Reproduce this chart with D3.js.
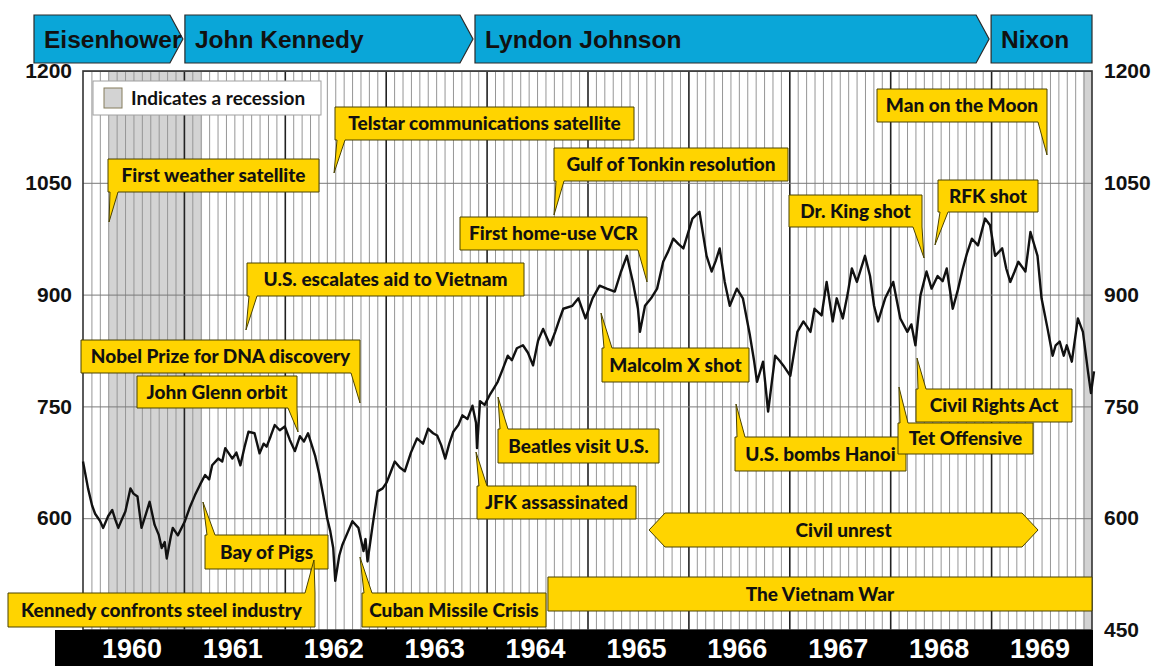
<!DOCTYPE html>
<html>
<head>
<meta charset="utf-8">
<script src="https://cdn.jsdelivr.net/npm/d3@7"></script>
<style>
  body { margin: 0; background: #fff; }
</style>
</head>
<body>
<script>
// ---- data ----
const years = [1960, 1961, 1962, 1963, 1964, 1965, 1966, 1967, 1968, 1969]
const valueTicks = [450, 600, 750, 900, 1050, 1200]

const presidents = ['Eisenhower', 'John Kennedy', 'Lyndon Johnson', 'Nixon']
const termStart = [1953.05, 1961.01, 1963.885, 1969.0]

const recessionStart = [1960.25, 1969.91]
const recessionEnd = [1961.18, 1970.9]

const eventLabels = [
    'First weather satellite', 'Telstar communications satellite', 'Gulf of Tonkin resolution',
    'First home-use VCR', 'U.S. escalates aid to Vietnam', 'Nobel Prize for DNA discovery',
    'John Glenn orbit', 'Bay of Pigs', 'Kennedy confronts steel industry', 'Cuban Missile Crisis',
    'Beatles visit U.S.', 'JFK assassinated', 'Malcolm X shot', 'U.S. bombs Hanoi',
    'Tet Offensive', 'Civil Rights Act', 'Dr. King shot', 'RFK shot', 'Man on the Moon'
]
const eventDates = [
    1960.258, 1962.488, 1964.668,
    1965.590, 1961.615, 1962.745,
    1962.131, 1961.189, 1962.289, 1962.745,
    1964.113, 1963.895, 1965.134, 1966.472,
    1968.087, 1968.266, 1968.335, 1968.444, 1969.554
]

const spanLabels = ['Civil unrest', 'The Vietnam War']
const spanStart = [1965.61, 1964.608]
const spanEnd = [1969.465, 1975.3]

// Dow Jones Industrial Average, decimal year / index level
const dowTime = [
    1960.00, 1960.05, 1960.09, 1960.12, 1960.14, 1960.17, 1960.20, 1960.25, 1960.29, 1960.32,
    1960.35, 1960.39, 1960.42, 1960.47, 1960.50, 1960.54, 1960.58, 1960.62, 1960.66, 1960.71,
    1960.75, 1960.78, 1960.81, 1960.83, 1960.87, 1960.89, 1960.94, 1961.01, 1961.06, 1961.11,
    1961.16, 1961.21, 1961.25, 1961.28, 1961.34, 1961.38, 1961.41, 1961.48, 1961.52, 1961.56,
    1961.60, 1961.64, 1961.70, 1961.75, 1961.79, 1961.82, 1961.86, 1961.90, 1961.95, 1962.00,
    1962.05, 1962.10, 1962.15, 1962.19, 1962.23, 1962.30, 1962.34, 1962.38, 1962.42, 1962.45,
    1962.48, 1962.50, 1962.54, 1962.57, 1962.62, 1962.67, 1962.73, 1962.78, 1962.80, 1962.82,
    1962.87, 1962.92, 1962.97, 1963.01, 1963.05, 1963.09, 1963.14, 1963.19, 1963.25, 1963.31,
    1963.37, 1963.42, 1963.47, 1963.51, 1963.55, 1963.59, 1963.63, 1963.67, 1963.72, 1963.76,
    1963.81, 1963.86, 1963.895, 1963.905, 1963.935, 1963.98, 1964.03, 1964.07, 1964.11, 1964.16,
    1964.21, 1964.25, 1964.30, 1964.36, 1964.41, 1964.46, 1964.51, 1964.56, 1964.63, 1964.68,
    1964.72, 1964.76, 1964.85, 1964.91, 1964.98, 1965.05, 1965.12, 1965.19, 1965.27, 1965.33,
    1965.39, 1965.45, 1965.50, 1965.52, 1965.57, 1965.63, 1965.69, 1965.75, 1965.80, 1965.85,
    1965.90, 1965.95, 1966.04, 1966.11, 1966.18, 1966.23, 1966.27, 1966.31, 1966.36, 1966.41,
    1966.48, 1966.54, 1966.61, 1966.65, 1966.68, 1966.74, 1966.79, 1966.86, 1966.90, 1966.94,
    1967.01, 1967.08, 1967.14, 1967.21, 1967.25, 1967.32, 1967.37, 1967.43, 1967.47, 1967.53,
    1967.58, 1967.62, 1967.67, 1967.75, 1967.80, 1967.84, 1967.88, 1967.95, 1968.03, 1968.10,
    1968.17, 1968.21, 1968.25, 1968.30, 1968.36, 1968.41, 1968.47, 1968.52, 1968.56, 1968.62,
    1968.67, 1968.72, 1968.76, 1968.81, 1968.87, 1968.94, 1968.99, 1969.04, 1969.11, 1969.15,
    1969.19, 1969.23, 1969.27, 1969.34, 1969.39, 1969.46, 1969.50, 1969.56, 1969.61, 1969.64,
    1969.68, 1969.72, 1969.75, 1969.80, 1969.86, 1969.91, 1969.96, 1969.99, 1970.02
]
const dowClose = [
    676, 640, 617, 606, 602, 596, 587, 603, 611, 598,
    587, 600, 609, 640, 633, 629, 587, 604, 622, 591,
    578, 560, 568, 546, 575, 587, 577, 596, 615, 631,
    645, 658, 652, 671, 680, 676, 694, 680, 688, 671,
    695, 716, 714, 687, 700, 696, 710, 725, 718, 723,
    705, 690, 710, 703, 714, 684, 660, 631, 600, 583,
    560, 516, 550, 564, 580, 596, 587, 556, 572, 542,
    590, 636, 640, 648, 662, 676, 668, 663, 688, 707,
    700, 720, 714, 711, 698, 680, 700, 716, 725, 738,
    733, 751, 728, 694, 757, 752, 765, 774, 783, 800,
    818, 812, 828, 832, 822, 805, 838, 854, 832, 850,
    866, 881, 885, 895, 868, 895, 912, 908, 904, 930,
    952, 917, 881, 850, 885, 895, 908, 944, 958, 975,
    968, 962, 1002, 1011, 952, 931, 945, 962, 917, 885,
    908, 895, 845, 812, 783, 810, 743, 818, 812, 805,
    791, 850, 864, 850, 881, 872, 917, 864, 895, 868,
    902, 935, 917, 952, 925, 885, 864, 895, 917, 868,
    850, 860, 832, 899, 931, 908, 925, 918, 935, 881,
    906, 935, 955, 975, 966, 1002, 993, 952, 962, 935,
    917, 930, 944, 931, 984, 952, 895, 854, 818, 832,
    837, 818, 832, 810, 868, 850, 797, 768, 797
]

// ---- layout (pixels) ----
const W = 1160
const H = 666
const plot = {left: 83, right: 1092, top: 71, bottom: 630}
const banner = {left: 34, top: 15, bottom: 63, arrow: 13}

// callout boxes keyed by label; tail = which corner the pointer leaves from
const calloutLayout = {
    'First weather satellite': {x: 108, y: 159, w: 211, h: 33, tail: 'bl', tipY: 222},
    'Telstar communications satellite': {x: 335, y: 107, w: 299, h: 33, tail: 'bl', tipY: 173},
    'Gulf of Tonkin resolution': {x: 554, y: 148, w: 234, h: 33, tail: 'bl', tipY: 215},
    'First home-use VCR': {x: 460, y: 217, w: 187, h: 33, tail: 'br', tipY: 282},
    'U.S. escalates aid to Vietnam': {x: 247, y: 263, w: 277, h: 33, tail: 'bl', tipY: 330},
    'Nobel Prize for DNA discovery': {x: 81, y: 340, w: 279, h: 33, tail: 'br', tipY: 403},
    'John Glenn orbit': {x: 137, y: 376, w: 160, h: 32, tail: 'br', tipY: 432},
    'Bay of Pigs': {x: 205, y: 535, w: 123, h: 34, tail: 'tl', tipY: 502},
    'Kennedy confronts steel industry': {x: 8, y: 593, w: 307, h: 34, tail: 'tr', tipY: 560},
    'Cuban Missile Crisis': {x: 362, y: 593, w: 184, h: 34, tail: 'tl', tipY: 557},
    'Beatles visit U.S.': {x: 498, y: 429, w: 161, h: 34, tail: 'tl', tipY: 397},
    'JFK assassinated': {x: 477, y: 486, w: 159, h: 33, tail: 'tl', tipY: 452},
    'Malcolm X shot': {x: 602, y: 348, w: 147, h: 34, tail: 'tl', tipY: 313},
    'U.S. bombs Hanoi': {x: 735, y: 437, w: 171, h: 34, tail: 'tl', tipY: 404},
    'Tet Offensive': {x: 898, y: 423, w: 135, h: 31, tail: 'tl', tipY: 387},
    'Civil Rights Act': {x: 916, y: 389, w: 156, h: 33, tail: 'tl', tipY: 358},
    'Dr. King shot': {x: 789, y: 195, w: 133, h: 32, tail: 'br', tipY: 258},
    'RFK shot': {x: 938, y: 180, w: 100, h: 32, tail: 'bl', tipY: 245},
    'Man on the Moon': {x: 877, y: 89, w: 170, h: 33, tail: 'br', tipY: 155}
}
const spanLayout = [
    {y: 513, h: 34, point: 16},
    {y: 577, h: 34, point: 0}
]

const yellow = '#ffd400'
const yellowEdge = '#4a4200'
const blue = '#0aa6d8'
const headFont = '"Liberation Sans", Arial, sans-serif'
const noteFont = 'Lato, "Open Sans", sans-serif'
const noteSize = 19

const svg = d3.select('body')
    .append('svg')
    .attr('width', W)
    .attr('height', H)

const x = d3.scaleLinear().domain([1960, 1970]).range([plot.left, plot.right])
const y = d3.scaleLinear().domain([450, 1200]).range([plot.bottom, plot.top])

const clampX = t => x(Math.max(1960, Math.min(1970, t)))

function noteText(sel, size){
    return sel
        .style('font-family', noteFont)
        .style('font-weight', 900)
        .style('font-size', size + 'px')
        .attr('fill', '#111')
}

// shrink a label if it would not fit its box
function fitText(textSel, maxWidth){
    const node = textSel.node()
    const w = node.getComputedTextLength()
    if (w > maxWidth) {
        textSel.style('font-size', (noteSize * maxWidth / w) + 'px')
    }
}

// ---- president banner ----
presidents.forEach((name, i) => {
    const last = i === presidents.length - 1
    const x0 = Math.max(banner.left, x(termStart[i]))
    const x1 = last ? plot.right : x(termStart[i + 1]) - 2
    const t = banner.top, b = banner.bottom, m = (t + b) / 2
    const pts = last
        ? [[x0, t], [x1, t], [x1, b], [x0, b]]
        : [[x0, t], [x1 - banner.arrow, t], [x1, m], [x1 - banner.arrow, b], [x0, b]]

    svg.append('polygon')
        .attr('points', pts.map(p => p.join(',')).join(' '))
        .attr('fill', blue)
        .attr('stroke', '#2a2a2a')
        .attr('stroke-width', 1.2)

    svg.append('text')
        .attr('x', x0 + 10)
        .attr('y', m + 9)
        .text(name)
        .style('font-family', headFont)
        .style('font-weight', 'bold')
        .style('font-size', '24.5px')
        .attr('fill', '#111')
})

// ---- plot background, recessions, grid ----
svg.append('rect')
    .attr('x', plot.left).attr('y', plot.top)
    .attr('width', plot.right - plot.left).attr('height', plot.bottom - plot.top)
    .attr('fill', '#fff')

svg.selectAll('.recession')
    .data(recessionStart.map((s, i) => ({s: s, e: recessionEnd[i]})))
    .join('rect')
    .attr('class', 'recession')
    .attr('x', d => clampX(d.s))
    .attr('width', d => clampX(d.e) - clampX(d.s))
    .attr('y', plot.top)
    .attr('height', plot.bottom - plot.top)
    .attr('fill', '#d3d3d3')

const months = d3.range(1, 120).map(i => 1960 + i / 12)

const vGrid = svg.append('g')
    .attr('transform', `translate(0,${plot.bottom})`)
    .call(d3.axisBottom(x).tickValues(months).tickSize(-(plot.bottom - plot.top)).tickFormat(''))
vGrid.select('.domain').remove()
vGrid.selectAll('line')
    .attr('stroke', (d, i) => (i + 1) % 12 === 0 ? '#222' : '#969696')
    .attr('stroke-width', (d, i) => (i + 1) % 12 === 0 ? 1.6 : 1)

const hGrid = svg.append('g')
    .attr('transform', `translate(${plot.left},0)`)
    .call(d3.axisLeft(y).tickValues(valueTicks).tickSize(-(plot.right - plot.left)).tickFormat(''))
hGrid.select('.domain').remove()
hGrid.selectAll('line').attr('stroke', '#7a7a7a').attr('stroke-width', 1)

svg.append('rect')
    .attr('x', plot.left).attr('y', plot.top)
    .attr('width', plot.right - plot.left).attr('height', plot.bottom - plot.top)
    .attr('fill', 'none')
    .attr('stroke', '#333')
    .attr('stroke-width', 1.6)

// ---- value axes on both sides ----
function styleValueAxis(g){
    g.select('.domain').remove()
    g.selectAll('text')
        .style('font-family', headFont)
        .style('font-weight', 'bold')
        .style('font-size', '21px')
        .attr('fill', '#111')
}
svg.append('g')
    .attr('transform', `translate(${plot.left},0)`)
    .call(d3.axisLeft(y).tickValues(valueTicks.filter(v => v > 450)).tickFormat(d3.format('d')).tickSize(0).tickPadding(11))
    .call(styleValueAxis)
svg.append('g')
    .attr('transform', `translate(${plot.right},0)`)
    .call(d3.axisRight(y).tickValues(valueTicks).tickFormat(d3.format('d')).tickSize(0).tickPadding(12))
    .call(styleValueAxis)

// ---- year bar ----
svg.append('rect')
    .attr('x', 55).attr('y', plot.bottom)
    .attr('width', plot.right + 1 - 55).attr('height', H - plot.bottom)
    .attr('fill', '#000')

const yearAxis = svg.append('g')
    .attr('transform', `translate(0,${plot.bottom})`)
    .call(d3.axisBottom(x).tickValues(years.map(v => v + 0.48)).tickFormat(d => Math.floor(d)).tickSize(0).tickPadding(9))
yearAxis.select('.domain').remove()
yearAxis.selectAll('text')
    .style('font-family', headFont)
    .style('font-weight', 'bold')
    .style('font-size', '27px')
    .attr('fill', '#fff')

// ---- legend ----
const legend = svg.append('g')
legend.append('rect')
    .attr('x', 93).attr('y', 81).attr('width', 228).attr('height', 34)
    .attr('fill', '#fff').attr('stroke', '#a0a0a0')
legend.append('rect')
    .attr('x', 104).attr('y', 88).attr('width', 18).attr('height', 20)
    .attr('fill', '#d3d3d3').attr('stroke', '#857c5c')
const legendText = legend.append('text')
    .attr('x', 131).attr('y', 105)
    .text('Indicates a recession')
    .call(noteText, noteSize)
    .style('font-weight', 'bold')
fitText(legendText, 182)

// ---- the index line ----
const dow = dowTime.map((t, i) => ({t: t, v: dowClose[i]}))

svg.append('path')
    .datum(dow)
    .attr('d', d3.line().x(d => x(d.t)).y(d => y(d.v)))
    .attr('fill', 'none')
    .attr('stroke', '#111')
    .attr('stroke-width', 2.4)
    .attr('stroke-linejoin', 'round')

// ---- span bars (civil unrest, war) ----
spanLabels.forEach((label, i) => {
    const L = spanLayout[i]
    const x0 = clampX(spanStart[i])
    const x1 = clampX(spanEnd[i])
    const t = L.y, b = L.y + L.h, m = L.y + L.h / 2, p = L.point
    const pts = p > 0
        ? [[x0, m], [x0 + p, t], [x1 - p, t], [x1, m], [x1 - p, b], [x0 + p, b]]
        : [[x0, t], [x1, t], [x1, b], [x0, b]]

    svg.append('polygon')
        .attr('points', pts.map(q => q.join(',')).join(' '))
        .attr('fill', yellow)
        .attr('stroke', yellowEdge)
        .attr('stroke-width', 1)

    svg.append('text')
        .attr('x', (x0 + x1) / 2)
        .attr('y', m)
        .attr('dy', '0.36em')
        .style('text-anchor', 'middle')
        .text(label)
        .call(noteText, noteSize)
})

// ---- event callouts ----
function calloutPoints(L, tipX){
    const x0 = L.x, x1 = L.x + L.w, t = L.y, b = L.y + L.h
    const tip = [tipX, L.tipY]
    if (L.tail === 'bl') return [[x0, t], [x1, t], [x1, b], [x0 + 10, b], tip, [x0 + 2, b], [x0, b]]
    if (L.tail === 'br') return [[x0, t], [x1, t], [x1, b], tip, [x1 - 9, b], [x0, b]]
    if (L.tail === 'tl') return [[x0, t], [x0 + 2, t], tip, [x0 + 10, t], [x1, t], [x1, b], [x0, b]]
    return [[x0, t], [x1 - 10, t], tip, [x1, t], [x1, b], [x0, b]]
}

eventLabels.forEach((label, i) => {
    const L = calloutLayout[label]
    const g = svg.append('g').attr('class', 'callout')

    g.append('polygon')
        .attr('points', calloutPoints(L, x(eventDates[i])).map(q => q.join(',')).join(' '))
        .attr('fill', yellow)
        .attr('stroke', yellowEdge)
        .attr('stroke-width', 1)
        .attr('stroke-linejoin', 'miter')

    const txt = g.append('text')
        .attr('x', L.x + L.w / 2)
        .attr('y', L.y + L.h / 2)
        .attr('dy', '0.36em')
        .style('text-anchor', 'middle')
        .text(label)
        .call(noteText, noteSize)
    fitText(txt, L.w - 14)
})
</script>
</body>
</html>
